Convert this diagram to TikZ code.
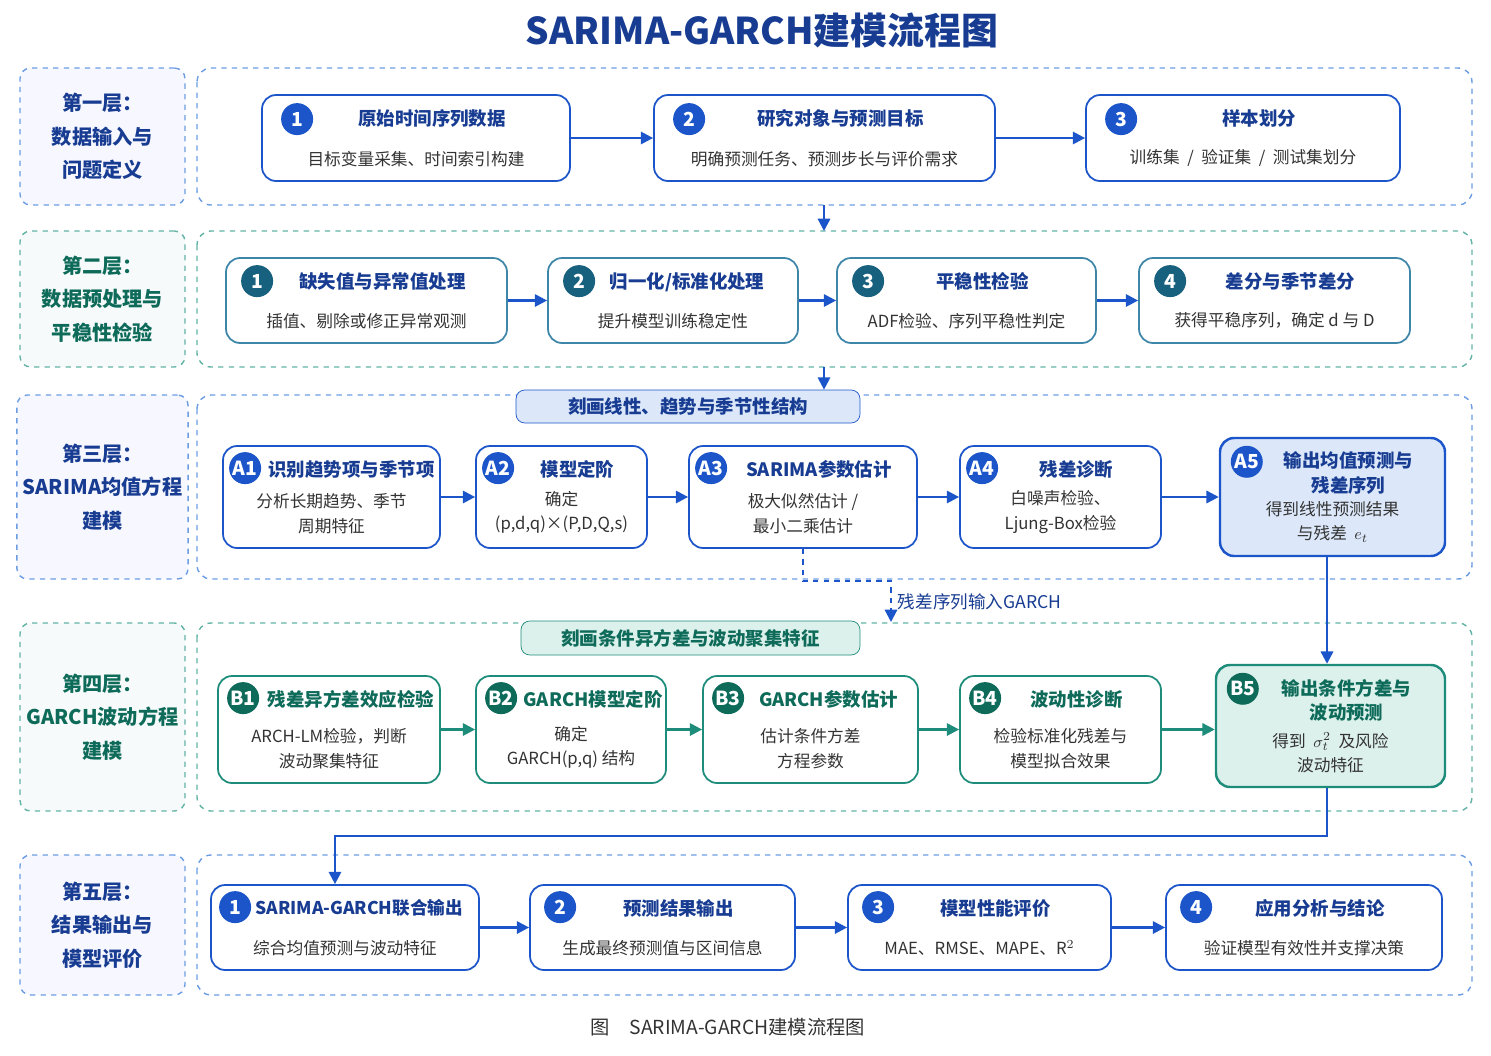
\documentclass[tikz,border=0pt]{standalone}
\usepackage{fontspec}
\setmainfont{Noto Sans CJK SC}
\usetikzlibrary{arrows.meta,calc}
\definecolor{bl}{HTML}{1B55C9}
\definecolor{bld}{HTML}{173C92}
\definecolor{tl}{HTML}{1E8C7A}
\definecolor{tld}{HTML}{0E6B5A}
\definecolor{pb}{HTML}{3E86A8}
\definecolor{pbd}{HTML}{17607E}
\definecolor{bdash}{HTML}{6C9DE3}
\definecolor{tdash}{HTML}{62B3A6}
\definecolor{txt}{HTML}{333333}
\definecolor{afill}{HTML}{DCE8FA}
\definecolor{bfill}{HTML}{DDF1EC}
\newcommand\tsh{16}
\newcommand\bxo{30}
\newcommand\byo{24}
\newcommand\card[9]{%
  \node[#6, minimum width={(#4-#2)*0.02cm}, minimum height={(#5-#3)*0.02cm}] (#1) at ({(#2+#4)/2},{(#3+#5)/2}) {};
  \node[#6badge] at ([shift={(\bxo,\byo)}]#1.north west) {#7};
  \node[#6title, anchor=north] at ([shift={(\tsh,9)}]#1.north) {#8};
  \node[subt, anchor=south] at ([shift={(0,-9)}]#1.south) {#9};
}
\begin{document}
\begin{tikzpicture}[x=0.02cm,y=-0.02cm,
  font=\fontsize{9.5}{12}\selectfont,
  B/.style={draw=bl, line width=1pt, rounded corners=8pt, fill=white},
  P/.style={draw=pb, line width=1pt, rounded corners=8pt, fill=white},
  T/.style={draw=tl, line width=1pt, rounded corners=8pt, fill=white},
  BF/.style={B, fill=afill, line width=1.4pt},
  TF/.style={T, fill=bfill, line width=1.4pt},
  Bbadge/.style={circle, fill=bl, text=white, inner sep=0pt, minimum size=0.64cm, font=\fontsize{11}{11}\selectfont\bfseries},
  Pbadge/.style={Bbadge, fill=pbd},
  Tbadge/.style={Bbadge, fill=tld},
  BFbadge/.style={Bbadge}, TFbadge/.style={Tbadge},
  Btitle/.style={text=bld, align=center, font=\fontsize{10.5}{14}\selectfont\bfseries},
  Ptitle/.style={Btitle},
  Ttitle/.style={text=tld, align=center, font=\fontsize{10.5}{14}\selectfont\bfseries},
  BFtitle/.style={Btitle}, TFtitle/.style={Ttitle},
  subt/.style={text=txt, align=center, font=\fontsize{9.5}{14}\selectfont},
  arr/.style={-{Triangle[length=7pt,width=7pt]}, line width=1.3pt, draw=bl},
  tarr/.style={arr, draw=tl},
  lay/.style={draw=#1, dashed, line width=0.8pt, rounded corners=8pt},
  lab/.style={rounded corners=6pt, dashed, line width=0.8pt, align=center, font=\fontsize{11.5}{19}\selectfont\bfseries},
  ]
\useasboundingbox (0,0) rectangle (1491,1055);
\node[text=bld, font=\fontsize{21}{24}\selectfont\bfseries] (title) at (762,30) {SARIMA-GARCH建模流程图};
% layers
\foreach \a/\b/\c in {68/205/bdash,231/367/tdash,395/579/bdash,623/811/tdash,855/995/bdash}{
  \draw[lay=\c] (197,\a) rectangle (1472,\b);
}
\node[lab, draw=bdash, fill=blue!3, text=bld, minimum width=3.3cm, minimum height=2.74cm] (L1) at (102.5,136.5) {第一层：\\数据输入与\\问题定义};
\node[lab, draw=tdash, fill=tl!4, text=tld, minimum width=3.3cm, minimum height=2.72cm] (L2) at (102.5,299) {第二层：\\数据预处理与\\平稳性检验};
\node[lab, draw=bdash, fill=blue!3, text=bld, minimum width=3.3cm, minimum height=3.68cm] (L3) at (102.5,487) {第三层：\\SARIMA均值方程\\建模};
\node[lab, draw=tdash, fill=tl!4, text=tld, minimum width=3.3cm, minimum height=3.76cm] (L4) at (102.5,717) {第四层：\\GARCH波动方程\\建模};
\node[lab, draw=bdash, fill=blue!3, text=bld, minimum width=3.3cm, minimum height=2.8cm] (L5) at (102.5,925) {第五层：\\结果输出与\\模型评价};
% layer 1
\renewcommand\bxo{36}\renewcommand\byo{25}
\card{n1}{262}{95}{570}{181}{B}{1}{原始时间序列数据}{目标变量采集、时间索引构建}
\card{n2}{654}{95}{995}{181}{B}{2}{研究对象与预测目标}{明确预测任务、预测步长与评价需求}
\card{n3}{1086}{95}{1400}{181}{B}{3}{样本划分}{训练集 \ / \ 验证集 \ / \ 测试集划分}
% layer 2
\renewcommand\bxo{32}\renewcommand\byo{24}
\card{p1}{226}{258}{507}{343}{P}{1}{缺失值与异常值处理}{插值、剔除或修正异常观测}
\renewcommand\tsh{14}
\card{p2}{548}{258}{798}{343}{P}{2}{归一化/标准化处理}{提升模型训练稳定性}
\renewcommand\tsh{16}
\card{p3}{837}{258}{1096}{343}{P}{3}{平稳性检验}{ADF检验、序列平稳性判定}
\card{p4}{1139}{258}{1410}{343}{P}{4}{差分与季节差分}{获得平稳序列，确定 d 与 D}
% layer 3
\node[draw=bl, fill=afill, rounded corners=5pt, minimum width=6.88cm, minimum height=0.66cm, text=bld, font=\fontsize{10.5}{12}\selectfont\bfseries] (ban3) at (688,406.5) {刻画线性、趋势与季节性结构};
\renewcommand\bxo{23}\renewcommand\byo{23}
\renewcommand\tsh{20}
\card{a1}{223}{446}{440}{548}{B}{A1}{识别趋势项与季节项}{分析长期趋势、季节\\周期特征}
\renewcommand\tsh{16}
\card{a2}{476}{446}{647}{548}{B}{A2}{模型定阶}{确定\\(p,d,q)×(P,D,Q,s)}
\card{a3}{689}{446}{917}{548}{B}{A3}{SARIMA参数估计}{极大似然估计 /\\最小二乘估计}
\card{a4}{960}{446}{1161}{548}{B}{A4}{残差诊断}{白噪声检验、\\Ljung-Box检验}
\renewcommand\bxo{28}\renewcommand\byo{25}
\card{a5}{1220}{438}{1445}{556}{BF}{A5}{输出均值预测与\\残差序列}{得到线性预测结果\\与残差 \ $e_t$}
% layer 4
\node[draw=tl, fill=bfill, rounded corners=5pt, minimum width=6.78cm, minimum height=0.68cm, text=tld, font=\fontsize{10.5}{12}\selectfont\bfseries] (ban4) at (690.5,638) {刻画条件异方差与波动聚集特征};
\renewcommand\bxo{26}\renewcommand\byo{23}
\renewcommand\tsh{22}
\card{b1}{218}{676}{440}{783}{T}{B1}{残差异方差效应检验}{ARCH-LM检验，判断\\波动聚集特征}
\card{b2}{476}{676}{666}{783}{T}{B2}{GARCH模型定阶}{确定\\GARCH(p,q) 结构}
\renewcommand\tsh{18}
\card{b3}{703}{676}{918}{783}{T}{B3}{GARCH参数估计}{估计条件方差\\方程参数}
\renewcommand\tsh{16}
\card{b4}{960}{676}{1161}{783}{T}{B4}{波动性诊断}{检验标准化残差与\\模型拟合效果}
\renewcommand\bxo{28}\renewcommand\byo{25}
\card{b5}{1216}{665}{1445}{787}{TF}{B5}{输出条件方差与\\波动预测}{得到 \ $\sigma_t^2$ \ 及风险\\波动特征}
% layer 5
\renewcommand\bxo{25}\renewcommand\byo{23}
\renewcommand\tsh{14}
\card{r1}{211}{885}{479}{970}{B}{1}{\fontsize{10}{14}\selectfont SARIMA-GARCH联合输出}{综合均值预测与波动特征}
\renewcommand\bxo{31}
\renewcommand\tsh{16}
\card{r2}{530}{885}{795}{970}{B}{2}{预测结果输出}{生成最终预测值与区间信息}
\card{r3}{848}{885}{1111}{970}{B}{3}{模型性能评价}{MAE、RMSE、MAPE、R$^2$}
\card{r4}{1166}{885}{1442}{970}{B}{4}{应用分析与结论}{验证模型有效性并支撑决策}
% arrows within layers
\foreach \a/\b in {n1/n2,n2/n3,p1/p2,p2/p3,p3/p4,a1/a2,a2/a3,a3/a4,a4/a5,r1/r2,r2/r3,r3/r4}
  \draw[arr] (\a.east) -- (\a.east -| \b.west);
\foreach \a/\b in {b1/b2,b2/b3,b3/b4,b4/b5}
  \draw[tarr] (\a.east) -- (\a.east -| \b.west);
% between layers
\coordinate (c1) at (824,205);
\coordinate (c2) at (824,367);
\draw[arr] (c1) -- (824,231);
\draw[arr] (c2) -- (ban3.north -| c2);
\draw[arr, dashed, line width=1.2pt] (a3.south) -- ++(0,32) -| (891,622) node[pos=0.75, right, text=bld, font=\fontsize{10}{12}\selectfont] {残差序列输入GARCH};
\draw[arr] (a5.south -| 1327,0) -- (b5.north -| 1327,0);
\draw[arr] (b5.south -| 1327,0) -- (1327,836) -- (335,836) -- (r1.north -| 335,0);
% caption
\node[text=txt, font=\fontsize{11}{12}\selectfont] (cap) at (728,1027) {图\quad SARIMA-GARCH建模流程图};
\end{tikzpicture}
\end{document}
